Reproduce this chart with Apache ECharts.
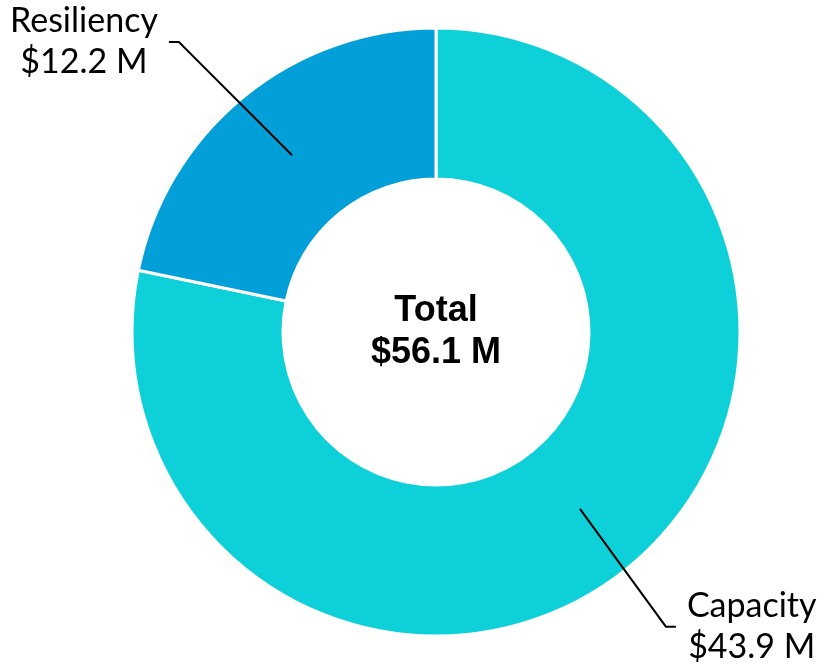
<!DOCTYPE html>
<html>
<head>
<meta charset="utf-8">
<script src="https://cdn.jsdelivr.net/npm/echarts@6/dist/echarts.min.js"></script>
<style>
  html, body { margin: 0; padding: 0; background: #ffffff; }
  #chart { width: 823px; height: 669px; }
</style>
</head>
<body>
<div id="chart"></div>
<script>
// Funding split (millions of dollars)
const categories = ['Capacity', 'Resiliency'];
const values = [43.9, 12.2];
const valueLabels = ['$43.9 M', '$12.2 M'];
const colors = ['#0ED0D9', '#039FD8'];
const totalLines = ['Total', '$56.1 M'];
// leader-line lengths for each slice label
const lineLengths = [152, 146];
const lineLengths2 = [0, 31];

const center = [436, 332];
const ringRadius = [153, 304];
const labelAnchorRadius = 228; // leader lines start mid-ring
const elbowGap = 10;           // short horizontal tail next to the text

const chart = echarts.init(document.getElementById('chart'), null, { renderer: 'canvas' });

const ringData = categories.map((name, i) => ({
  name: name,
  value: values[i],
  itemStyle: { color: colors[i] }
}));

const labelData = categories.map((name, i) => ({
  name: name,
  value: values[i],
  labelLine: { length: lineLengths[i], length2: lineLengths2[i] }
}));

chart.setOption({
  animation: false,
  series: [
    {
      type: 'pie',
      z: 2,
      center: center,
      radius: ringRadius,
      startAngle: 90,
      clockwise: true,
      silent: true,
      itemStyle: { borderColor: '#ffffff', borderWidth: 3 },
      label: { show: false },
      labelLine: { show: false },
      data: ringData
    },
    {
      type: 'pie',
      z: 5,
      center: center,
      radius: [0, labelAnchorRadius],
      startAngle: 90,
      clockwise: true,
      silent: true,
      avoidLabelOverlap: false,
      itemStyle: { color: 'rgba(0,0,0,0)', borderWidth: 0 },
      label: {
        show: true,
        position: 'outside',
        distanceToLabelLine: 11,
        formatter: function (p) {
          return '{t|' + p.name + '}\n{t|' + valueLabels[p.dataIndex] + '}';
        },
        rich: {
          t: {
            fontFamily: 'Lato',
            fontSize: 34,
            color: '#000000',
            lineHeight: 41,
            align: 'center'
          }
        }
      },
      labelLine: {
        show: true,
        smooth: false,
        lineStyle: { color: '#000000', width: 2 }
      },
      labelLayout: function (p) {
        const pts = p.labelLinePoints;
        if (!pts || pts.length < 3) return {};
        const start = [pts[0][0], pts[0][1]];
        const end = [pts[2][0], pts[2][1]];
        const dir = end[0] < center[0] ? 1 : -1;
        return {
          labelLinePoints: [start, [end[0] + dir * elbowGap, end[1]], end]
        };
      },
      data: labelData
    }
  ],
  graphic: [
    {
      type: 'text',
      x: center[0],
      y: center[1],
      z: 10,
      style: {
        text: totalLines.join('\n'),
        fontFamily: 'Liberation Sans, Arial, sans-serif',
        fontWeight: 'bold',
        fontSize: 36,
        lineHeight: 42,
        fill: '#000000',
        textAlign: 'center',
        textVerticalAlign: 'middle'
      }
    }
  ]
});
</script>
</body>
</html>
